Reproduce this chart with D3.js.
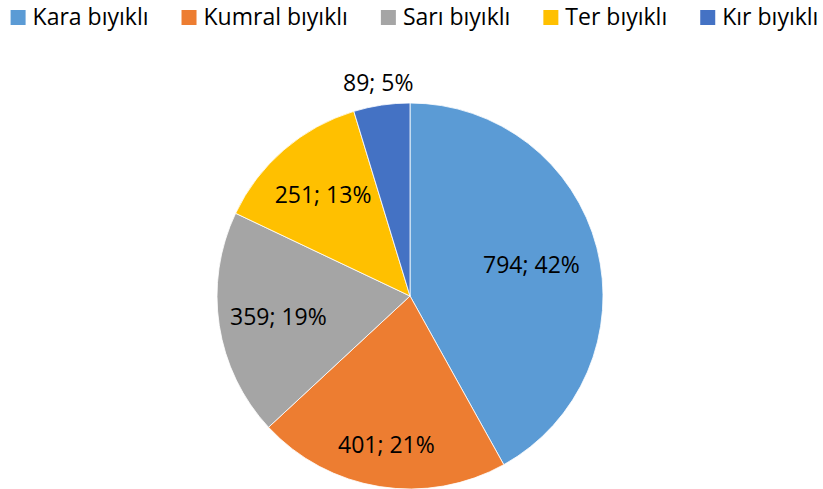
<!DOCTYPE html>
<html>
<head>
<meta charset="utf-8">
<script src="https://cdn.jsdelivr.net/npm/d3@7"></script>
<style>
  body { margin: 0; background: #fff; }
  svg text { font-family: "Open Sans", "Noto Sans", sans-serif; fill: #000; }
</style>
</head>
<body>
<div id="chart"></div>
<script>
const width = 823;
const height = 489;

// data
const categories = ["Kara bıyıklı", "Kumral bıyıklı", "Sarı bıyıklı", "Ter bıyıklı", "Kır bıyıklı"];
const values = [794, 401, 359, 251, 89];
const percents = ["42%", "21%", "19%", "13%", "5%"];
const colors = ["#5B9BD5", "#ED7D31", "#A5A5A5", "#FFC000", "#4472C4"];

// label placement (fraction of radius), Excel "best fit"
const labelRadius = [0.65, 0.78, 0.69, 0.69, 1.117];

const radius = 193;
const cx = 410, cy = 296;

const svg = d3.select("#chart")
    .append("svg")
    .attr("width", width)
    .attr("height", height)
    .attr("viewBox", `0 0 ${width} ${height}`);

const pie = d3.pie().sort(null).value(d => d.value);
const arc = d3.arc().innerRadius(0).outerRadius(radius);

const data = categories.map((c, i) => ({ name: c, value: values[i], pct: percents[i], color: colors[i], lr: labelRadius[i] }));
const arcs = pie(data);

const g = svg.append("g").attr("transform", `translate(${cx},${cy})`);

g.selectAll("path")
    .data(arcs)
    .enter()
    .append("path")
    .attr("d", arc)
    .attr("fill", d => d.data.color)
    .attr("stroke", "#fff")
    .attr("stroke-width", 0.8);

g.selectAll("text.lbl")
    .data(arcs)
    .enter()
    .append("text")
    .attr("class", "lbl")
    .attr("transform", d => {
        const r = radius * d.data.lr;
        const a = (d.startAngle + d.endAngle) / 2;
        return `translate(${Math.sin(a) * r},${-Math.cos(a) * r})`;
    })
    .attr("text-anchor", "middle")
    .attr("dy", "0.36em")
    .style("font-size", "23px")
    .text(d => `${d.data.value}; ${d.data.pct}`);

// legend, centred at top
const legend = svg.append("g");
const items = legend.selectAll("g")
    .data(data)
    .enter()
    .append("g");

items.append("rect")
    .attr("width", 15)
    .attr("height", 15)
    .attr("y", 10)
    .attr("fill", d => d.color);

items.append("text")
    .attr("x", 22)
    .attr("y", 25)
    .style("font-size", "23px")
    .text(d => d.name);

let xpos = 0;
items.each(function () {
    const w = d3.select(this).select("text").node().getComputedTextLength();
    d3.select(this).attr("transform", `translate(${xpos},0)`);
    xpos += 22 + w + 33;
});
const total = xpos - 33;
legend.attr("transform", `translate(${(width - total) / 2 + 3},0)`);
</script>
</body>
</html>
